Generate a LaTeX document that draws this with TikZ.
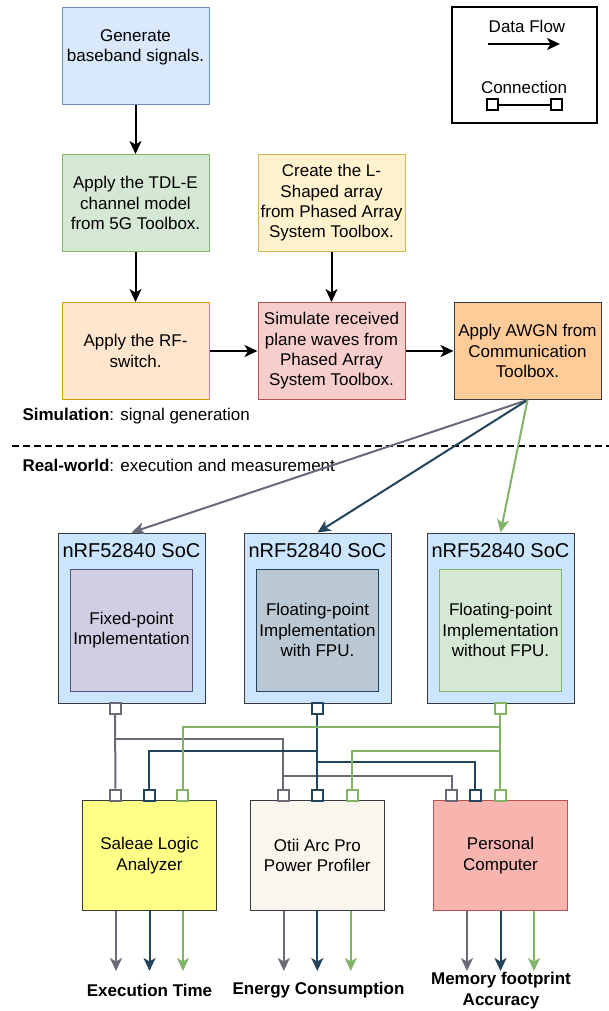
\documentclass[tikz,border=0pt]{standalone}
\usepackage{fontspec}
\setmainfont{Liberation Sans}
\usetikzlibrary{arrows.meta}
\usetikzlibrary{positioning}

\definecolor{wgray}{HTML}{6B6878}
\definecolor{wblue}{HTML}{23445D}
\definecolor{wgreen}{HTML}{82B366}
\definecolor{darkline}{HTML}{36393D}
\definecolor{genfill}{HTML}{DAE8FC}
\definecolor{genline}{HTML}{6C8EBF}
\definecolor{tdlfill}{HTML}{D5E8D4}
\definecolor{larrfill}{HTML}{FFF2CC}
\definecolor{larrline}{HTML}{D6B656}
\definecolor{rfswfill}{HTML}{FFE6CC}
\definecolor{rfswline}{HTML}{D79B00}
\definecolor{planefill}{HTML}{F8CECC}
\definecolor{planeline}{HTML}{B85450}
\definecolor{awgnfill}{HTML}{FFCC99}
\definecolor{socfill}{HTML}{CCE5FF}
\definecolor{fixfill}{HTML}{D0CEE2}
\definecolor{fixline}{HTML}{56517E}
\definecolor{fpufill}{HTML}{BAC8D3}
\definecolor{salefill}{HTML}{FFFF88}
\definecolor{otiifill}{HTML}{F9F7ED}
\definecolor{pcfill}{HTML}{F8B5B0}

\begin{document}
\begin{tikzpicture}[x=1pt,y=-1pt,
	every node/.style={font=\fontsize{17}{20.4}\selectfont,align=center,text=black},
	stagebox/.style={draw,line width=1pt,minimum width=147pt,minimum height=97pt,inner sep=0pt},
	socbox/.style={draw=darkline,fill=socfill,line width=1pt,minimum width=147pt,minimum height=170pt,inner sep=0pt},
	implbox/.style={draw,line width=1pt,minimum width=122pt,minimum height=122pt,inner sep=0pt},
	measbox/.style={draw,line width=1pt,minimum width=134pt,minimum height=110pt,inner sep=0pt},
	soctitle/.style={font=\fontsize{20}{24}\selectfont,inner sep=0pt},
	outlabel/.style={font=\fontsize{17}{20.4}\selectfont\bfseries,inner sep=0pt},
	port/.style={draw=#1,fill=white,line width=2pt,minimum size=11pt,inner sep=0pt},
	flow/.style={line width=2pt,-{Stealth[length=13pt,width=12pt,inset=3.5pt]}},
	wire/.style={line width=2pt,draw=#1}]

	\useasboundingbox (0,0) rectangle (609,1011);

	% simulation chain
	\node[stagebox,draw=genline,fill=genfill] (gen) at (135.5,56) {
		Generate\\
		baseband signals.\\
		\mbox{}
	};
	\node[stagebox,draw=wgreen,fill=tdlfill, below=49pt of gen] (tdl) {
		Apply the TDL-E\\
		channel model\\
		from 5G Toolbox.
	};
	\node[stagebox,draw=rfswline,fill=rfswfill, below=50pt of tdl] (rfsw) {
		Apply the RF-\\
		switch.
	};
	\node[stagebox,draw=larrline,fill=larrfill, right=48pt of tdl] (larr) {
		Create the L-\\
		Shaped array\\
		from Phased Array\\
		System Toolbox.
	};
	\node[stagebox,draw=planeline,fill=planefill, right=48pt of rfsw] (planew) {
		Simulate received\\
		plane waves from\\
		Phased Array\\
		System Toolbox.
	};
	\node[stagebox,draw=darkline,fill=awgnfill, right=48pt of planew] (awgn) {
		Apply AWGN from\\
		Communication\\
		Toolbox.
	};

	\draw[flow] (gen) -- (tdl);
	\draw[flow] (tdl) -- (rfsw);
	\draw[flow] (larr) -- (planew);
	\draw[flow] (rfsw) -- (planew);
	\draw[flow] (planew) -- (awgn);

	% legend
	\node[draw,line width=2pt,minimum width=145pt,minimum height=116.5pt] (legend) at (524.2,65) {};
	\node (lflow) at (527,26) {Data Flow};
	\coordinate (lfa) at (488,44);
	\coordinate (lfb) at (560,44);
	\draw[flow] (lfa) -- (lfb);
	\node (lconn) at (524,87.5) {Connection};
	\node[port=black] (lpa) at (492.7,105) {};
	\node[port=black] (lpb) at (556,105) {};
	\draw[line width=1.5pt] (lpa) -- (lpb);

	% divider
	\node[anchor=west,inner sep=0pt] (simlab) at (22.3,416) {\textbf{Simulation}: signal generation};
	\draw[line width=2pt,dash pattern=on 7pt off 4pt] (12,446) -- (609,446);
	\node[anchor=west,inner sep=0pt] (reallab) at (22.3,465.5) {\textbf{Real-world}: execution and measurement};

	% boards
	\node[socbox] (socA) at (131.5,618) {};
	\node[socbox] (socB) at (317.5,618) {};
	\node[socbox] (socC) at (500.5,618) {};
	\foreach \s in {socA,socB,socC}
		\node[soctitle] at ([yshift=-18pt]\s.north) {nRF52840 SoC};

	\node[implbox,draw=fixline,fill=fixfill] (implA) at (131.5,630) {
		Fixed-point\\
		Implementation
	};
	\node[implbox,draw=wblue,fill=fpufill] (implB) at (317.5,630) {
		Floating-point\\
		Implementation\\
		with FPU.
	};
	\node[implbox,draw=wgreen,fill=tdlfill] (implC) at (500.5,630) {
		Floating-point\\
		Implementation\\
		without FPU.
	};

	\draw[flow,wgray] (awgn.south) -- (socA.north);
	\draw[flow,wblue] (awgn.south) -- (socB.north);
	\draw[flow,wgreen] (awgn.south) -- (socC.north);

	% measurement
	\node[measbox,draw=darkline,fill=salefill] (sale) at (149.5,855.6) {
		Saleae Logic\\
		Analyzer
	};
	\node[measbox,draw=darkline,fill=otiifill] (otii) at (317.3,855.6) {
		Otii Arc Pro\\
		Power Profiler
	};
	\node[measbox,draw=planeline,fill=pcfill] (pc) at (500.5,855.6) {
		Personal\\
		Computer
	};

	% ports
	\node[port=wgray] (pA) at (115,708) {};
	\node[port=wblue] (pB) at (317,708) {};
	\node[port=wgreen] (pC) at (500,708) {};

	\node[port=wgray] (sAg) at (115.5,795) {};
	\node[port=wblue] (sAb) at (149,795) {};
	\node[port=wgreen] (sAc) at (182.7,795) {};
	\node[port=wgray] (sOg) at (283.3,795) {};
	\node[port=wblue] (sOb) at (317,795) {};
	\node[port=wgreen] (sOc) at (352,795) {};
	\node[port=wgray] (sPg) at (451.5,795) {};
	\node[port=wblue] (sPb) at (475,795) {};
	\node[port=wgreen] (sPc) at (500,795) {};

	\coordinate (busCa) at (0,727);
	\coordinate (busGa) at (0,739);
	\coordinate (busBa) at (0,751);
	\coordinate (busCb) at (0,751);
	\coordinate (busBb) at (0,762);
	\coordinate (busGb) at (0,776);

	\draw[wire=wgray] (pA) -- (sAg);
	\draw[wire=wgray] (pA |- busGa) -| (sOg);
	\draw[wire=wgray] (sOg |- busGb) -| (sPg);

	\draw[wire=wblue] (pB) -- (sOb);
	\draw[wire=wblue] (pB |- busBa) -| (sAb);
	\draw[wire=wblue] (pB |- busBb) -| (sPb);

	\draw[wire=wgreen] (pC) -- (sPc);
	\draw[wire=wgreen] (pC |- busCa) -| (sAc);
	\draw[wire=wgreen] (pC |- busCb) -| (sOc);

	% results
	\coordinate (outrow) at (0,971);
	\foreach \m in {sale,otii,pc}{
		\foreach \dx/\col in {-33.5/wgray,0/wblue,33.5/wgreen}{
			\coordinate (\m out\col) at ([xshift=\dx pt]\m.south);
			\draw[flow,\col] (\m out\col) -- (\m out\col |- outrow);
		}
	}

	\node[outlabel] (exlab) at (149.5,990) {Execution Time};
	\node[outlabel] (enlab) at (318.5,990) {Energy Consumption};
	\node[outlabel,align=center] (memlab) at (501,990.5) {Memory footprint\\Accuracy};

\end{tikzpicture}
\end{document}
